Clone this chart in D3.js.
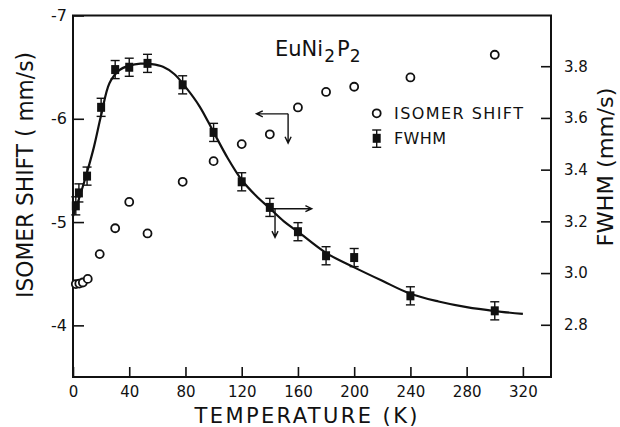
<!DOCTYPE HTML>
<html>
  <head>
    <title>EuNi2P2 isomer shift and FWHM</title>
    <style>
      html, body { margin: 0; padding: 0; background: #fff; }
      svg { display: block; }
      text { font-family: "DejaVu Sans", sans-serif; fill: #111; }
      .tick text { font-size: 15px; }
      .frame { fill: none; stroke: #111; stroke-width: 2; }
      .fit { fill: none; stroke: #111; stroke-width: 2.2; }
      .isPt { fill: #fff; stroke: #111; stroke-width: 1.8; }
      .fwPt { fill: #111; }
      .err { stroke: #111; stroke-width: 1.4; }
      .arrow { fill: none; stroke: #111; stroke-width: 1.4; }
    </style>
  </head>
  <body>
    <svg width="620" height="427"></svg>
    <script src="https://d3js.org/d3.v7.min.js"></script>
    <script>
      // isomer shift (open circles, left axis)
      var isTemps = [2, 4.5, 7, 10.5, 19, 30, 40, 53, 78, 100, 120, 140, 160, 180, 200, 240, 300];
      var isValues = [-4.40, -4.405, -4.415, -4.45, -4.69, -4.94, -5.195, -4.89, -5.39, -5.59, -5.755, -5.85, -6.11, -6.26, -6.31, -6.40, -6.62];

      // FWHM (filled squares with error bars, right axis)
      var fwTemps = [2, 4.2, 10, 20, 30, 40, 53, 78, 100, 120, 140, 160, 180, 200, 240, 300];
      var fwValues = [3.26, 3.31, 3.375, 3.641, 3.787, 3.796, 3.811, 3.728, 3.544, 3.353, 3.254, 3.160, 3.067, 3.060, 2.912, 2.854];
      var fwErrors = [0.035, 0.035, 0.035, 0.035, 0.035, 0.035, 0.035, 0.035, 0.035, 0.035, 0.035, 0.035, 0.035, 0.035, 0.035, 0.035];

      // fitted line through the FWHM points
      var fitTemps = [0, 5, 10, 15, 20, 26, 33, 40, 48, 56, 64, 72, 80, 90, 100, 110, 120, 130, 140, 150, 160, 180, 200, 220, 240, 260, 280, 300, 320];
      var fitValues = [3.22, 3.30, 3.39, 3.49, 3.61, 3.735, 3.785, 3.802, 3.810, 3.808, 3.798, 3.770, 3.720, 3.645, 3.545, 3.445, 3.36, 3.30, 3.25, 3.20, 3.16, 3.078, 3.022, 2.970, 2.920, 2.890, 2.868, 2.853, 2.842];

      var xTicks = [0, 40, 80, 120, 160, 200, 240, 280, 320];
      var leftTicks = [-7, -6, -5, -4];
      var rightTicks = [2.8, 3.0, 3.2, 3.4, 3.6, 3.8];

      var plotLeft = 73, plotRight = 551, plotTop = 15.5, plotBottom = 377;

      var svg = d3.select('svg');
      var x = d3.scaleLinear().domain([0, 340]).range([plotLeft, plotRight]);
      var yL = d3.scaleLinear().domain([-3.5, -7]).range([plotBottom, plotTop]);
      var yR = d3.scaleLinear().domain([2.6, 4.0]).range([plotBottom - 0.5, 14.5]);

      // axes, ticks pointing inward
      var xAxis = svg.append('g')
        .attr('transform', 'translate(0,' + plotBottom + ')')
        .call(d3.axisBottom(x).tickValues(xTicks).tickSizeInner(-10).tickSizeOuter(0).tickPadding(9).tickFormat(d3.format('d')));
      var lAxis = svg.append('g')
        .attr('transform', 'translate(' + plotLeft + ',0)')
        .call(d3.axisLeft(yL).tickValues(leftTicks).tickSizeInner(-11).tickSizeOuter(0).tickPadding(6).tickFormat(function(d) { return '-' + Math.abs(d); }));
      var rAxis = svg.append('g')
        .attr('transform', 'translate(' + plotRight + ',0)')
        .call(d3.axisRight(yR).tickValues(rightTicks).tickSizeInner(-10).tickSizeOuter(0).tickPadding(13).tickFormat(d3.format('.1f')));
      [xAxis, lAxis, rAxis].forEach(function(a) {
        a.select('.domain').remove();
        a.selectAll('.tick line').attr('stroke', '#111').attr('stroke-width', 1.6);
        a.attr('font-family', null).attr('font-size', null);
      });
      lAxis.selectAll('.tick text').style('font-size', '16px');

      svg.append('rect').classed('frame', true)
        .attr('x', plotLeft).attr('y', plotTop)
        .attr('width', plotRight - plotLeft).attr('height', plotBottom - plotTop);

      // fitted curve
      var line = d3.line()
        .x(function(d) { return x(d[0]); })
        .y(function(d) { return yR(d[1]); })
        .curve(d3.curveCatmullRom);
      svg.append('path').classed('fit', true)
        .attr('d', line(d3.zip(fitTemps, fitValues)));

      // isomer shift circles
      svg.append('g').selectAll('circle')
        .data(d3.zip(isTemps, isValues))
        .join('circle').classed('isPt', true)
        .attr('cx', function(d) { return x(d[0]); })
        .attr('cy', function(d) { return yL(d[1]); })
        .attr('r', 4);

      // FWHM squares with error bars
      function fwMarker(g, cx, cy, lo, hi) {
        g.append('line').classed('err', true).attr('x1', cx).attr('x2', cx).attr('y1', lo).attr('y2', hi);
        g.append('line').classed('err', true).attr('x1', cx - 4.5).attr('x2', cx + 4.5).attr('y1', lo).attr('y2', lo);
        g.append('line').classed('err', true).attr('x1', cx - 4.5).attr('x2', cx + 4.5).attr('y1', hi).attr('y2', hi);
        g.append('rect').classed('fwPt', true).attr('x', cx - 4).attr('y', cy - 4.5).attr('width', 8).attr('height', 9);
      }
      var fwG = svg.append('g');
      fwTemps.forEach(function(t, i) {
        fwMarker(fwG, x(t), yR(fwValues[i]), yR(fwValues[i] - fwErrors[i]), yR(fwValues[i] + fwErrors[i]));
      });

      // arrows telling which axis each set uses
      function arrow(x1, y1, x2, y2) {
        var a = Math.atan2(y2 - y1, x2 - x1), h = 7, w = 0.45;
        svg.append('path').classed('arrow', true)
          .attr('d', 'M' + x1 + ',' + y1 + 'L' + x2 + ',' + y2 +
            'M' + (x2 - h * Math.cos(a - w)) + ',' + (y2 - h * Math.sin(a - w)) +
            'L' + x2 + ',' + y2 +
            'L' + (x2 - h * Math.cos(a + w)) + ',' + (y2 - h * Math.sin(a + w)));
      }
      arrow(x(153), yL(-6.048), x(130.5), yL(-6.048));
      arrow(x(153), yL(-6.048), x(153), yL(-5.765));
      arrow(x(140), yR(3.249), x(169.8), yR(3.249));
      arrow(x(143.7), yR(3.249), x(143.7), yR(3.138));

      // compound name
      var title = svg.append('text').attr('x', 275).attr('y', 56).attr('font-size', 21);
      title.append('tspan').text('EuNi');
      title.append('tspan').attr('dy', 6).attr('dx', 1).attr('font-size', 17).text('2');
      title.append('tspan').attr('dy', -6).attr('dx', 2).text('P');
      title.append('tspan').attr('dy', 6).attr('font-size', 17).text('2');

      // legend
      svg.append('circle').classed('isPt', true).attr('cx', 376.7).attr('cy', 113.3).attr('r', 4);
      svg.append('text').attr('x', 394).attr('y', 119.3).attr('font-size', 16)
        .attr('textLength', 129).attr('lengthAdjust', 'spacing').text('ISOMER SHIFT');
      fwMarker(svg.append('g'), 376.7, 138.3, 147.3, 130);
      svg.append('text').attr('x', 394).attr('y', 144).attr('font-size', 16)
        .attr('textLength', 52).attr('lengthAdjust', 'spacing').text('FWHM');

      // axis titles
      svg.append('text').attr('x', 306).attr('y', 423).attr('text-anchor', 'middle').attr('font-size', 21)
        .attr('textLength', 223).attr('lengthAdjust', 'spacing').text('TEMPERATURE (K)');
      svg.append('text').attr('transform', 'translate(33,175) rotate(-90)').attr('text-anchor', 'middle').attr('font-size', 23)
        .attr('textLength', 246).attr('lengthAdjust', 'spacingAndGlyphs').text('ISOMER SHIFT ( mm/s)');
      svg.append('text').attr('transform', 'translate(613,167) rotate(-90)').attr('text-anchor', 'middle').attr('font-size', 22)
        .attr('textLength', 159).attr('lengthAdjust', 'spacingAndGlyphs').text('FWHM (mm/s)');
    </script>
  </body>
</html>
